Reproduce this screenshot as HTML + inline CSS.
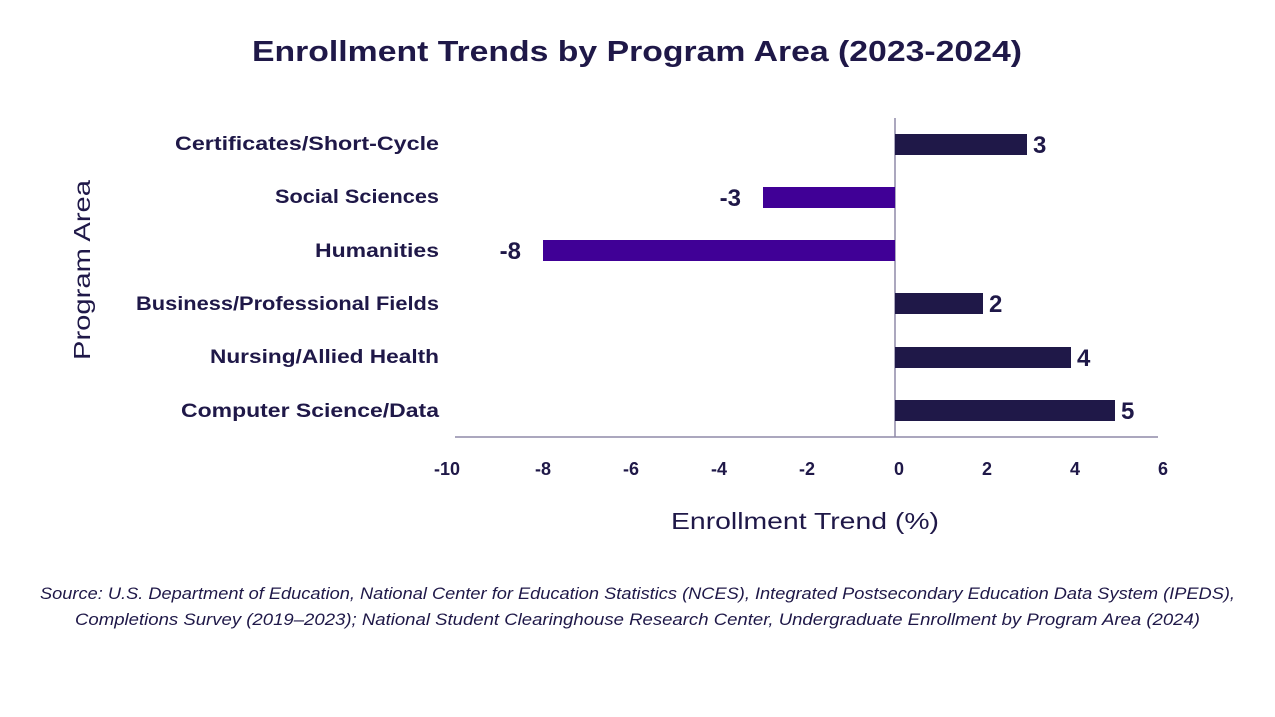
<!DOCTYPE html>
<html><head><meta charset="utf-8"><style>
html,body{margin:0;padding:0;background:#fff;}
svg{display:block;font-family:"Liberation Sans",sans-serif;}
</style></head><body>
<svg width="1275" height="717" viewBox="0 0 1275 717" xmlns="http://www.w3.org/2000/svg">
<text x="252" y="61" textLength="770" lengthAdjust="spacingAndGlyphs" font-size="29" font-weight="bold" fill="#1f1848">Enrollment Trends by Program Area (2023-2024)</text>
<line x1="895" y1="118" x2="895" y2="437" stroke="#8f8aa8" stroke-width="1.5"/>
<line x1="455" y1="437" x2="1158" y2="437" stroke="#8f8aa8" stroke-width="1.5"/>
<g fill="#1f1848">
<rect x="895" y="134" width="132" height="21"/>
<rect x="895" y="293" width="88" height="21"/>
<rect x="895" y="347" width="176" height="21"/>
<rect x="895" y="400" width="220" height="21"/>
</g>
<g fill="#400096">
<rect x="763" y="187" width="132" height="21"/>
<rect x="543" y="240" width="352" height="21"/>
</g>
<g font-size="24" font-weight="bold" fill="#1f1848">
<text x="1033" y="153">3</text>
<text x="741" y="206" text-anchor="end">-3</text>
<text x="521" y="259" text-anchor="end">-8</text>
<text x="989" y="312">2</text>
<text x="1077" y="366">4</text>
<text x="1121" y="419">5</text>
</g>
<g font-size="19" font-weight="bold" fill="#1f1848" lengthAdjust="spacingAndGlyphs">
<text x="175" y="150" textLength="264" lengthAdjust="spacingAndGlyphs">Certificates/Short-Cycle</text>
<text x="275" y="203" textLength="164" lengthAdjust="spacingAndGlyphs">Social Sciences</text>
<text x="315" y="257" textLength="124" lengthAdjust="spacingAndGlyphs">Humanities</text>
<text x="136" y="310" textLength="303" lengthAdjust="spacingAndGlyphs">Business/Professional Fields</text>
<text x="210" y="363" textLength="229" lengthAdjust="spacingAndGlyphs">Nursing/Allied Health</text>
<text x="181" y="417" textLength="258" lengthAdjust="spacingAndGlyphs">Computer Science/Data</text>
</g>
<g font-size="18" font-weight="bold" fill="#1f1848" text-anchor="middle">
<text x="447" y="475">-10</text>
<text x="543" y="475">-8</text>
<text x="631" y="475">-6</text>
<text x="719" y="475">-4</text>
<text x="807" y="475">-2</text>
<text x="899" y="475">0</text>
<text x="987" y="475">2</text>
<text x="1075" y="475">4</text>
<text x="1163" y="475">6</text>
</g>
<text x="671" y="529" textLength="268" lengthAdjust="spacingAndGlyphs" font-size="23" fill="#1f1848">Enrollment Trend (%)</text>
<text transform="translate(90,360) rotate(-90)" textLength="180" lengthAdjust="spacingAndGlyphs" font-size="23" fill="#1f1848">Program Area</text>
<g font-size="17" font-style="italic" fill="#1f1848">
<text x="40" y="599" textLength="1195" lengthAdjust="spacingAndGlyphs">Source: U.S. Department of Education, National Center for Education Statistics (NCES), Integrated Postsecondary Education Data System (IPEDS),</text>
<text x="75" y="625" textLength="1125" lengthAdjust="spacingAndGlyphs">Completions Survey (2019–2023); National Student Clearinghouse Research Center, Undergraduate Enrollment by Program Area (2024)</text>
</g>
</svg>
</body></html>
